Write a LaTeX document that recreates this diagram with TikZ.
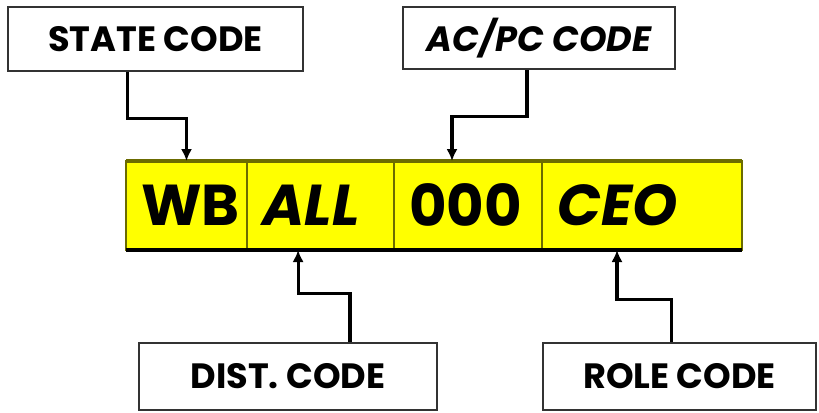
\documentclass[tikz,border=0pt]{standalone}
\usepackage{fontspec}
\setmainfont{Poppins}
\usepackage{tikz}
\usetikzlibrary{
  positioning,
  arrows.meta
}
\usepackage{xcolor}
\definecolor{cellfill}{HTML}{FFFF00}
\definecolor{cellrule}{HTML}{6B6B00}
\definecolor{boxrule}{HTML}{333333}

\begin{document}
\begin{tikzpicture}[
  tagbox/.style={draw=boxrule, line width=1.2pt, fill=white, font=\fontsize{25}{27}\selectfont\bfseries,
                 align=center, inner sep=0pt},
  cell/.style={draw=cellrule, line width=1pt, fill=cellfill, minimum height=2.225cm,
               inner xsep=0.38cm, inner ysep=0pt, outer sep=0pt, text width=#1, align=left,
               font=\fontsize{41}{45}\selectfont\bfseries},
  arr/.style={-{Latex[length=3mm, width=2.8mm]}, line width=2.2pt}
]
  \useasboundingbox (0,0) rectangle (20.475,-10.3);

  % the code strip
  \node[cell=2.265cm, anchor=north west] (cwb) at (3.15,-4.025) {WB};
  \node[cell=2.915cm, right=0pt of cwb] (call) {\itshape ALL};
  \node[cell=2.94cm, right=0pt of call] (czero) {000};
  \node[cell=4.24cm, right=0pt of czero] (cceo) {\itshape CEO};
  \draw[cellrule, line width=2.2pt] (cwb.north west) -- (cceo.north east);
  \draw[black, line width=2.6pt] (cwb.south west) -- (cceo.south east);

  % what each part stands for
  \node[tagbox, minimum width=7.375cm, minimum height=1.6cm] (state) at (3.8875,-0.975) {STATE CODE};
  \node[tagbox, minimum width=6.8cm, minimum height=1.55cm] (acpc) at (13.475,-0.95) {\itshape AC/PC CODE};
  \node[tagbox, minimum width=7.45cm, minimum height=1.675cm] (dist) at (7.2,-9.4125) {DIST. CODE};
  \node[tagbox, minimum width=6.825cm, minimum height=1.675cm] (role) at (16.9875,-9.4125) {ROLE CODE};

  \draw[arr] ([xshift=-0.71cm]state.south) -- ++(0,-1.175) -| (cwb.north);
  \draw[arr] ([xshift=-0.3cm]acpc.south) -- ++(0,-1.175) -| ([xshift=-0.4cm]czero.north);
  \draw[arr] ([xshift=1.55cm]dist.north) -- ++(0,1.225) -| ([xshift=-0.56cm]call.south);
  \draw[arr] ([xshift=-0.21cm]role.north) -- ++(0,1.075) -| ([xshift=-0.625cm]cceo.south);
\end{tikzpicture}
\end{document}
